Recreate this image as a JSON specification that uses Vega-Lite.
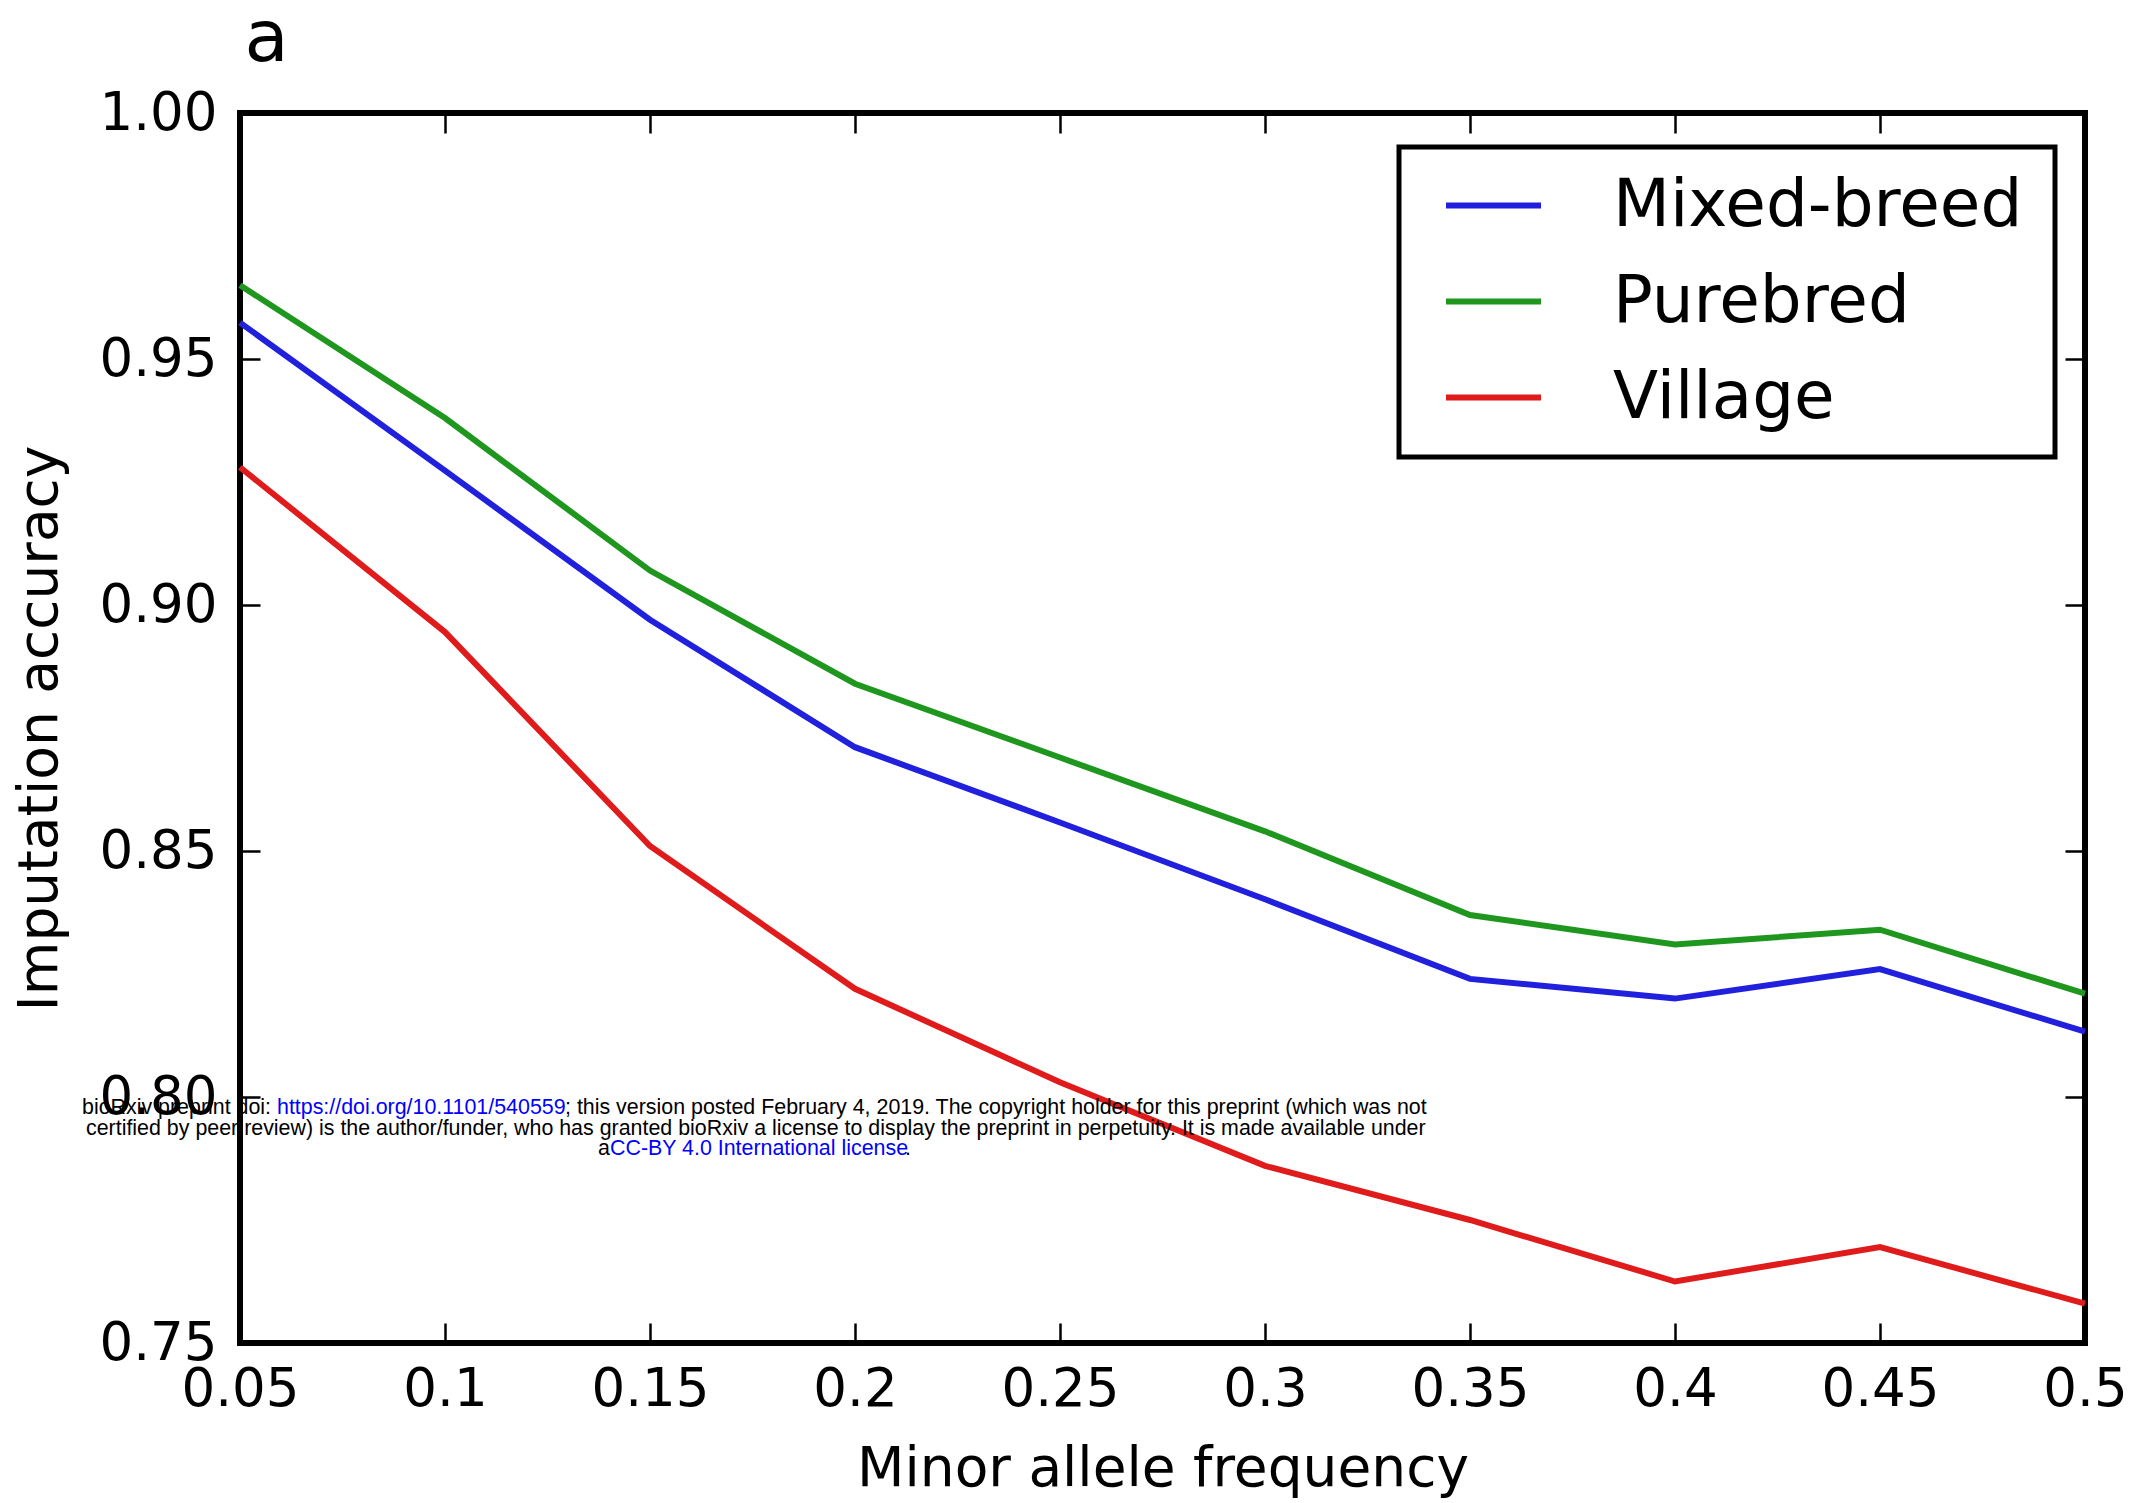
{
  "$schema": "https://vega.github.io/schema/vega-lite/v6.json",
  "width": 1845,
  "height": 1230,
  "autosize": {"type": "none"},
  "padding": {"left": 240, "top": 113, "right": 66, "bottom": 160},
  "background": "white",
  "config": {
    "view": {"stroke": "black", "strokeWidth": 6},
    "font": "DejaVu Sans",
    "axis": {
      "domain": false,
      "grid": false,
      "ticks": true,
      "tickColor": "black",
      "tickWidth": 2.5,
      "tickSize": -20,
      "labelColor": "black",
      "labelFont": "DejaVu Sans",
      "labelFontSize": 53,
      "titleFont": "DejaVu Sans",
      "titleFontSize": 55,
      "titleFontWeight": "normal",
      "titleColor": "black"
    }
  },
  "datasets": {
    "acc": [
      {"maf": 0.05, "group": "Mixed-breed", "acc": 0.9574},
      {"maf": 0.1, "group": "Mixed-breed", "acc": 0.9273},
      {"maf": 0.15, "group": "Mixed-breed", "acc": 0.897},
      {"maf": 0.2, "group": "Mixed-breed", "acc": 0.8711},
      {"maf": 0.25, "group": "Mixed-breed", "acc": 0.8558},
      {"maf": 0.3, "group": "Mixed-breed", "acc": 0.8402},
      {"maf": 0.35, "group": "Mixed-breed", "acc": 0.824},
      {"maf": 0.4, "group": "Mixed-breed", "acc": 0.82},
      {"maf": 0.45, "group": "Mixed-breed", "acc": 0.826},
      {"maf": 0.5, "group": "Mixed-breed", "acc": 0.8133},
      {"maf": 0.05, "group": "Purebred", "acc": 0.965},
      {"maf": 0.1, "group": "Purebred", "acc": 0.938},
      {"maf": 0.15, "group": "Purebred", "acc": 0.907},
      {"maf": 0.2, "group": "Purebred", "acc": 0.884},
      {"maf": 0.25, "group": "Purebred", "acc": 0.869},
      {"maf": 0.3, "group": "Purebred", "acc": 0.854},
      {"maf": 0.35, "group": "Purebred", "acc": 0.837},
      {"maf": 0.4, "group": "Purebred", "acc": 0.831},
      {"maf": 0.45, "group": "Purebred", "acc": 0.834},
      {"maf": 0.5, "group": "Purebred", "acc": 0.821},
      {"maf": 0.05, "group": "Village", "acc": 0.928},
      {"maf": 0.1, "group": "Village", "acc": 0.8945},
      {"maf": 0.15, "group": "Village", "acc": 0.851},
      {"maf": 0.2, "group": "Village", "acc": 0.822},
      {"maf": 0.25, "group": "Village", "acc": 0.803},
      {"maf": 0.3, "group": "Village", "acc": 0.786},
      {"maf": 0.35, "group": "Village", "acc": 0.775},
      {"maf": 0.4, "group": "Village", "acc": 0.7625},
      {"maf": 0.45, "group": "Village", "acc": 0.7695},
      {"maf": 0.5, "group": "Village", "acc": 0.758}
    ],
    "wmBlack": [
      {"x": 0.01146, "y": 0.79776, "t": "bioRxiv preprint doi: "},
      {"x": 0.12927, "y": 0.79776, "t": "; this version posted February 4, 2019. The copyright holder for this preprint (which was not"},
      {"x": 0.01244, "y": 0.7935, "t": "certified by peer review) is the author/funder, who has granted bioRxiv a license to display the preprint in perpetuity. It is made available under"},
      {"x": 0.13732, "y": 0.78943, "t": "a"},
      {"x": 0.2122, "y": 0.78943, "t": "."}
    ],
    "wmBlue": [
      {"x": 0.05902, "y": 0.79776, "t": "https://doi.org/10.1101/540559"},
      {"x": 0.14024, "y": 0.78943, "t": "CC-BY 4.0 International license"}
    ]
  },
  "layer": [
    {
      "data": {"name": "acc"},
      "mark": {"type": "line", "strokeWidth": 6},
      "encoding": {
        "x": {
          "field": "maf",
          "type": "quantitative",
          "scale": {"domain": [0.05, 0.5], "nice": false, "zero": false},
          "axis": {
            "orient": "bottom",
            "title": "Minor allele frequency",
            "values": [0.05, 0.1, 0.15, 0.2, 0.25, 0.3, 0.35, 0.4, 0.45, 0.5],
            "format": "~g",
            "labelPadding": 40,
            "titlePadding": 26,
            "labelFlush": false,
            "labelOverlap": false
          }
        },
        "y": {
          "field": "acc",
          "type": "quantitative",
          "scale": {"domain": [0.75, 1.0], "nice": false, "zero": false},
          "axis": {
            "orient": "left",
            "title": "Imputation accuracy",
            "values": [0.75, 0.8, 0.85, 0.9, 0.95, 1.0],
            "format": ".2f",
            "labelPadding": 43,
            "titlePadding": 30,
            "labelFlush": false,
            "labelOverlap": false
          }
        },
        "color": {
          "field": "group",
          "type": "nominal",
          "scale": {"domain": ["Mixed-breed", "Purebred", "Village"], "range": ["#2020dd", "#1f971f", "#e01b1b"]},
          "legend": {
            "orient": "none",
            "legendX": 1159,
            "legendY": 34,
            "title": "________________________________________________________________________________________________________________________________",
            "titleOrient": "bottom",
            "titleAnchor": "start",
            "titleFontSize": 10,
            "titleFontWeight": "normal",
            "titlePadding": 8,
            "titleOpacity": 0,
            "titleLimit": 2000,
            "labelFont": "DejaVu Sans",
            "labelFontSize": 66,
            "labelColor": "black",
            "labelLimit": 1000,
            "symbolType": "stroke",
            "symbolSize": 9025,
            "symbolStrokeWidth": 6,
            "strokeColor": "black",
            "fillColor": "white",
            "padding": 8,
            "symbolOffset": 36,
            "labelOffset": 69,
            "rowPadding": 12,
            "encode": {"legend": {"update": {"strokeWidth": {"value": 5}}}}
          }
        }
      }
    },
    {
      "data": {"name": "wmBlack"},
      "mark": {"type": "text", "align": "left", "baseline": "middle", "font": "Liberation Sans", "fontSize": 21.4, "color": "black"},
      "encoding": {
        "x": {
          "field": "x",
          "type": "quantitative",
          "axis": {
            "orient": "top",
            "title": "a",
            "titleX": 4,
            "titleY": -53,
            "titleAlign": "left",
            "titleAnchor": "start",
            "titleAngle": 0,
            "titleBaseline": "alphabetic",
            "titleFontSize": 72,
            "labels": false,
            "values": [0.05, 0.1, 0.15, 0.2, 0.25, 0.3, 0.35, 0.4, 0.45, 0.5]
          }
        },
        "y": {
          "field": "y",
          "type": "quantitative",
          "axis": {
            "orient": "right",
            "title": null,
            "labels": false,
            "values": [0.75, 0.8, 0.85, 0.9, 0.95, 1.0]
          }
        },
        "text": {"field": "t"}
      }
    },
    {
      "data": {"name": "wmBlue"},
      "mark": {"type": "text", "align": "left", "baseline": "middle", "font": "Liberation Sans", "fontSize": 21.4, "color": "#0000ff"},
      "encoding": {
        "x": {"field": "x", "type": "quantitative", "axis": null},
        "y": {"field": "y", "type": "quantitative", "axis": null},
        "text": {"field": "t"}
      }
    }
  ],
  "resolve": {"axis": {"x": "independent", "y": "independent"}}
}
